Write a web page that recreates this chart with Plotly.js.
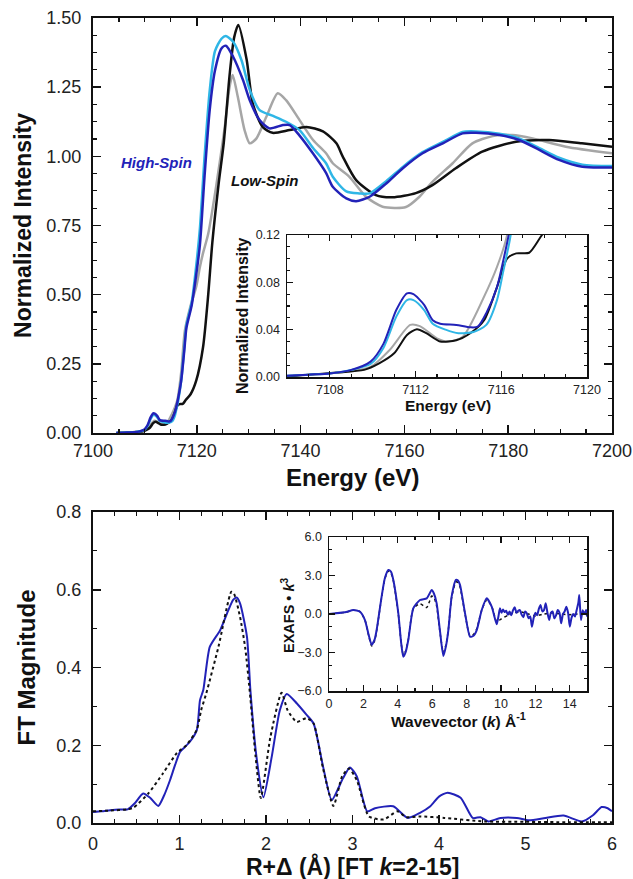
<!DOCTYPE html>
<html>
<head>
<meta charset="utf-8">
<script src="https://cdn.plot.ly/plotly-3.0.1.min.js"></script>
<style>
  html, body { margin: 0; padding: 0; background: #fff; }
  #chart { width: 633px; height: 879px; }
</style>
</head>
<body>
<div id="chart"></div>
<script>
// ---- Fe K-edge XANES (normalized) ----
const hsE  = [7104.5, 7106, 7107, 7108, 7109, 7109.9, 7110.5, 7111.1, 7111.6, 7111.9, 7112.4, 7112.8, 7113.15, 7113.9, 7114.55, 7114.9, 7115.3, 7115.8, 7116.1, 7116.4, 7117.0, 7117.6, 7118.0, 7119.0, 7119.8, 7120.6, 7121.5, 7122.5, 7123.5, 7124.75, 7125.6, 7127, 7128.9, 7130.2, 7132.1, 7134.0, 7136.6, 7137.9, 7139.8, 7142.4, 7144.9, 7146.2, 7148.8, 7150.7, 7153.3, 7156.5, 7159.7, 7163.5, 7167.4, 7171.2, 7173.8, 7178.3, 7182.1, 7186, 7189.8, 7194.3, 7200];
const hsMu = [0, 0.001, 0.002, 0.003, 0.006, 0.013, 0.028, 0.0566, 0.0707, 0.070, 0.061, 0.048, 0.045, 0.044, 0.042, 0.0425, 0.054, 0.076, 0.099, 0.125, 0.19, 0.30, 0.38, 0.46, 0.56, 0.68, 0.93, 1.17, 1.31, 1.39, 1.40, 1.36, 1.276, 1.203, 1.131, 1.101, 1.113, 1.113, 1.075, 1.01, 0.94, 0.89, 0.848, 0.838, 0.854, 0.902, 0.957, 1.011, 1.047, 1.083, 1.085, 1.077, 1.059, 1.023, 0.987, 0.962, 0.96];

const cyE  = [7104.5, 7106, 7107, 7108, 7109, 7109.9, 7110.5, 7111.1, 7111.6, 7111.9, 7112.4, 7112.8, 7113.4, 7114.0, 7114.7, 7115.3, 7115.8, 7116.1, 7116.4, 7117.0, 7117.6, 7118.0, 7119.0, 7119.8, 7120.6, 7121.5, 7122.5, 7123.5, 7124.75, 7125.6, 7127, 7128.6, 7130.2, 7132.1, 7134.7, 7137.2, 7139.8, 7142.4, 7144.9, 7146.2, 7148.8, 7151.3, 7153.3, 7156.5, 7159.7, 7163.5, 7167.4, 7171.2, 7173.8, 7178.3, 7182.1, 7186, 7189.8, 7194.3, 7200];
const cyMu = [0, 0.001, 0.002, 0.003, 0.006, 0.011, 0.0245, 0.051, 0.065, 0.065, 0.0566, 0.045, 0.040, 0.037, 0.038, 0.044, 0.065, 0.09, 0.116, 0.19, 0.31, 0.39, 0.47, 0.59, 0.74, 1.0, 1.24, 1.38, 1.425, 1.435, 1.414, 1.348, 1.24, 1.167, 1.146, 1.125, 1.095, 1.03, 0.975, 0.926, 0.873, 0.866, 0.866, 0.91, 0.962, 1.015, 1.052, 1.088, 1.09, 1.082, 1.065, 1.03, 0.995, 0.97, 0.965];

const grE  = [7104.5, 7106, 7107, 7108, 7109, 7109.9, 7110.8, 7111.75, 7112.2, 7113.0, 7113.5, 7114.2, 7115.2, 7115.8, 7116.27, 7117.0, 7117.7, 7118.8, 7119.9, 7120.6, 7121.2, 7122.2, 7123.8, 7125.4, 7126.3, 7126.9, 7127.9, 7129.2, 7130.2, 7131.5, 7133.4, 7135.6, 7137.2, 7139.8, 7142.4, 7144.9, 7146.2, 7149.4, 7152.6, 7155.8, 7160.3, 7162.9, 7165.4, 7169.3, 7173.1, 7177, 7180.8, 7184.7, 7191.1, 7200];
const grMu = [0, 0.001, 0.002, 0.003, 0.005, 0.0085, 0.023, 0.044, 0.043, 0.0327, 0.030, 0.034, 0.068, 0.093, 0.12, 0.22, 0.37, 0.46, 0.53, 0.60, 0.65, 0.72, 0.90, 1.107, 1.25, 1.294, 1.215, 1.095, 1.047, 1.065, 1.143, 1.228, 1.203, 1.131, 1.059, 1.011, 0.975, 0.926, 0.854, 0.818, 0.817, 0.854, 0.908, 0.975, 1.047, 1.073, 1.077, 1.065, 1.035, 1.011];

const lsE  = [7104.5, 7106, 7107, 7108.3, 7109.6, 7110.3, 7111.0, 7111.6, 7112.06, 7112.5, 7113.15, 7113.9, 7114.55, 7115.2, 7115.8, 7116.27, 7116.7, 7117.3, 7117.9, 7118.8, 7119.9, 7121.2, 7122.2, 7123.0, 7124.2, 7125.2, 7126.3, 7127.2, 7128, 7129.6, 7130.8, 7132.7, 7134.6, 7137.9, 7141.1, 7144.3, 7146.9, 7148.1, 7150.7, 7154.5, 7157.7, 7162.2, 7165.4, 7169.9, 7175, 7181.5, 7187.9, 7194.2, 7200];
const lsMu = [0, 0.0005, 0.002, 0.0037, 0.006, 0.0115, 0.020, 0.0355, 0.0403, 0.037, 0.030, 0.031, 0.037, 0.048, 0.076, 0.100, 0.1045, 0.105, 0.12, 0.14, 0.19, 0.31, 0.50, 0.69, 0.90, 1.05, 1.29, 1.43, 1.475, 1.35, 1.19, 1.106, 1.085, 1.095, 1.106, 1.09, 1.047, 1.0, 0.914, 0.86, 0.852, 0.867, 0.896, 0.957, 1.017, 1.053, 1.059, 1.047, 1.035];

// ---- Fourier transform magnitude: data (solid) and fit (dotted) ----
const ftR    = [0, 0.1, 0.2, 0.3, 0.4, 0.48, 0.58, 0.66, 0.755, 0.82, 0.89, 0.95, 1.006, 1.06, 1.12, 1.2, 1.237, 1.275, 1.35, 1.47, 1.56, 1.62, 1.66, 1.7, 1.78, 1.82, 1.89, 1.97, 2.066, 2.16, 2.24, 2.355, 2.47, 2.55, 2.66, 2.76, 2.89, 2.97, 3.05, 3.17, 3.26, 3.47, 3.64, 3.78, 3.9, 4.0, 4.1, 4.25, 4.39, 4.48, 4.57, 4.71, 4.9, 5.04, 5.23, 5.44, 5.65, 5.78, 5.88, 5.95, 6.0];
const ftData = [0.028, 0.030, 0.033, 0.035, 0.035, 0.05, 0.076, 0.065, 0.044, 0.07, 0.11, 0.15, 0.183, 0.195, 0.209, 0.239, 0.316, 0.342, 0.453, 0.496, 0.545, 0.574, 0.58, 0.565, 0.479, 0.34, 0.17, 0.066, 0.17, 0.29, 0.332, 0.308, 0.278, 0.256, 0.145, 0.059, 0.115, 0.143, 0.12, 0.03, 0.038, 0.043, 0.013, 0.026, 0.043, 0.068, 0.078, 0.065, 0.013, 0.015, 0.004, 0.013, 0.013, 0.007, 0.013, 0.019, 0.004, 0.02, 0.041, 0.038, 0.03];
const fitR   = [0, 0.2, 0.4, 0.47, 0.64, 0.81, 0.97, 1.08, 1.2, 1.25, 1.31, 1.45, 1.6, 1.63, 1.7, 1.76, 1.82, 1.88, 1.94, 2.05, 2.18, 2.25, 2.355, 2.47, 2.55, 2.66, 2.78, 2.88, 2.96, 3.05, 3.19, 3.36, 3.52, 3.62, 3.78, 4.06, 4.53, 5.0, 5.5, 6.0];
const ftFit  = [0.03, 0.032, 0.035, 0.04, 0.076, 0.128, 0.18, 0.2, 0.24, 0.29, 0.334, 0.453, 0.595, 0.59, 0.53, 0.45, 0.32, 0.17, 0.064, 0.22, 0.335, 0.29, 0.26, 0.27, 0.256, 0.14, 0.044, 0.12, 0.14, 0.11, 0.017, 0.009, 0.03, 0.015, 0.017, 0.013, 0.004, 0.003, 0.002, 0.002];

// ---- k^3-weighted EXAFS: data (solid) and fit (dotted) ----
const kData = [0, 0.4, 1.0, 1.41, 1.8, 2.09, 2.3, 2.48, 2.65, 2.77, 3.06, 3.25, 3.45, 3.6, 3.74, 4.03, 4.2, 4.32, 4.45, 4.61, 4.9, 5.29, 5.68, 5.85, 5.97, 6.1, 6.26, 6.45, 6.65, 6.8, 6.94, 7.13, 7.38, 7.5, 7.62, 7.91, 8.2, 8.4, 8.59, 8.88, 9.17, 9.46, 9.75,
  9.85, 9.94, 10.03, 10.12, 10.2, 10.3, 10.4, 10.5, 10.6, 10.7, 10.8, 10.9, 11.0, 11.1, 11.2, 11.3, 11.4, 11.5, 11.6, 11.7, 11.8, 11.9, 12.0, 12.1, 12.2, 12.3, 12.4, 12.5, 12.6, 12.7, 12.8, 12.9, 13.0, 13.1, 13.2, 13.3, 13.4, 13.5, 13.6, 13.7, 13.8, 13.9, 14.0, 14.1, 14.2, 14.3, 14.4, 14.5, 14.55, 14.65, 14.75, 14.85, 14.95, 15.0];
const chiData = [0, 0.05, 0.15, 0.31, 0.18, -0.47, -1.6, -2.4, -2.0, -1.25, 1.35, 2.8, 3.43, 3.3, 2.65, 0.05, -2.3, -3.33, -3.0, -2.03, 0.44, 1.09, 1.22, 1.6, 1.87, 1.6, 0.83, -1.3, -3.27, -2.5, -1.25, 1.35, 2.65, 2.6, 2.26, 0.05, -1.77, -1.7, -1.25, 0.31, 1.22, 0.57, -0.8,
  -0.2, 0.44, 0.1, 0.35, 0.15, 0.25, -0.05, 0.2, -0.1, 0.3, 0.52, 0.1, 0.25, 0.3, -0.05, -0.26, 0.2, 0.05, -0.34, -0.2, -0.99, -0.3, 0.1, -0.1, 0.4, 0.7, 0.2, 0.3, 0.83, 0.1, -0.47, 0.1, 0.2, -0.34, -0.1, 0.31, 0.1, -0.73, 0.0, 0.2, 0.57, 0.1, -0.99, -0.3, 0.0, -0.2, 0.31, 0.9, 1.48, -0.47, 0.3, 0.0, 0.31, -0.2];
const kFit = [0, 0.4, 1.0, 1.41, 1.8, 2.09, 2.3, 2.48, 2.65, 2.77, 3.06, 3.25, 3.45, 3.6, 3.74, 4.03, 4.2, 4.32, 4.45, 4.61, 4.9, 5.29, 5.68, 5.85, 5.97, 6.1, 6.26, 6.45, 6.65, 6.8, 6.94, 7.13, 7.38, 7.5, 7.62, 7.91, 8.2, 8.4, 8.59, 8.88, 9.17, 9.46, 9.75, 10.0, 10.4, 10.8, 11.2, 11.6, 12.0, 12.5, 13.0, 13.5, 14.0, 14.5, 15.0];
const chiFit = [0, 0.05, 0.15, 0.3, 0.18, -0.47, -1.65, -2.5, -2.1, -1.3, 1.3, 2.75, 3.35, 3.2, 2.6, 0.0, -2.3, -3.15, -2.9, -2.0, 0.4, 0.8, 0.5, 1.0, 1.4, 1.3, 0.6, -1.4, -3.0, -2.4, -1.2, 1.3, 2.5, 2.45, 2.1, 0.0, -1.7, -1.6, -1.15, 0.3, 1.1, 0.6, -0.6, -0.4, -0.1, 0.1, 0.15, 0.0, -0.15, 0.0, 0.08, 0.0, -0.05, 0.0, 0.0];

// ---- colours ----
const BLUE = '#2222b8', CYAN = '#2fb6e6', GREY = '#a6a6a6', BLACK = '#111111';
const FONT = 'Liberation Sans, Arial, Helvetica, sans-serif';

// page geometry (pixels) -> paper fractions
const W = 633, H = 879;
const domX = (l, r) => [l / W, r / W];
const domY = (t, b) => [1 - b / H, 1 - t / H];
const px = v => v / W;
const py = v => 1 - v / H;

function frame(extra) {
  return Object.assign({
    showgrid: false, zeroline: false, showline: true, linecolor: BLACK, linewidth: 2,
    mirror: 'ticks', ticks: 'inside', ticklen: 8, tickwidth: 1.5, tickcolor: BLACK,
    tickfont: { family: FONT, size: 18, color: '#222' }, ticklabelstandoff: 4,
    fixedrange: true, automargin: false
  }, extra);
}
function insetFrame(extra) {
  return frame(Object.assign({
    linewidth: 1.5, ticklen: 6, tickwidth: 1.2,
    tickfont: { family: FONT, size: 12.5, color: '#222' }, ticklabelstandoff: 3
  }, extra));
}
const minorTicks = (d, len) => ({ dtick: d, ticks: 'inside', ticklen: len, tickwidth: 1.1, tickcolor: BLACK, showgrid: false });

const xanes = [
  { x: grE, y: grMu, c: GREY },
  { x: lsE, y: lsMu, c: BLACK },
  { x: cyE, y: cyMu, c: CYAN },
  { x: hsE, y: hsMu, c: BLUE }
];
const traces = [];
xanes.forEach(s => {
  traces.push({ x: s.x, y: s.y, xaxis: 'x', yaxis: 'y', type: 'scatter', mode: 'lines',
    line: { color: s.c, width: 2.5, shape: 'spline', smoothing: 0.7 }, hoverinfo: 'skip' });
});
xanes.forEach(s => {
  traces.push({ x: s.x, y: s.y, xaxis: 'x2', yaxis: 'y2', type: 'scatter', mode: 'lines',
    line: { color: s.c, width: 2, shape: 'spline', smoothing: 0.7 }, hoverinfo: 'skip' });
});
traces.push({ x: ftR, y: ftData, xaxis: 'x3', yaxis: 'y3', type: 'scatter', mode: 'lines',
  line: { color: BLUE, width: 2, shape: 'spline', smoothing: 0.6 }, hoverinfo: 'skip' });
traces.push({ x: fitR, y: ftFit, xaxis: 'x3', yaxis: 'y3', type: 'scatter', mode: 'lines',
  line: { color: BLACK, width: 2, dash: 'dot', shape: 'spline', smoothing: 0.6 }, hoverinfo: 'skip' });
traces.push({ x: kFit, y: chiFit, xaxis: 'x4', yaxis: 'y4', type: 'scatter', mode: 'lines',
  line: { color: BLACK, width: 1.5, dash: 'dot', shape: 'spline', smoothing: 0.6 }, hoverinfo: 'skip' });
traces.push({ x: kData, y: chiData, xaxis: 'x4', yaxis: 'y4', type: 'scatter', mode: 'lines',
  line: { color: BLUE, width: 2, shape: 'spline', smoothing: 0.6 }, hoverinfo: 'skip' });

// axis titles placed as paper annotations so each sits exactly where wanted
function label(text, x, y, size, angle, color) {
  return { xref: 'paper', yref: 'paper', x: px(x), y: py(y), xanchor: 'center', yanchor: 'middle',
    text: text, showarrow: false, textangle: angle || 0,
    font: { family: FONT, size: size, color: color || BLACK } };
}

const layout = {
  width: W, height: H, showlegend: false,
  margin: { l: 0, r: 0, t: 0, b: 0 },
  paper_bgcolor: '#fff', plot_bgcolor: 'rgba(0,0,0,0)',
  font: { family: FONT, color: BLACK },

  // XANES main
  xaxis: frame({ domain: domX(93, 612), anchor: 'y', range: [7100, 7200], dtick: 20, tick0: 7100,
    ticklabelstandoff: 0, minor: minorTicks(5, 4) }),
  yaxis: frame({ domain: domY(18, 433), anchor: 'x', range: [0, 1.5], dtick: 0.25, tick0: 0, tickformat: '.2f',
    ticklabelstandoff: 6, minor: minorTicks(0.0625, 4),
    title: { text: '<b>Normalized Intensity</b>', font: { family: FONT, size: 23, color: BLACK }, standoff: 8 } }),

  // XANES pre-edge inset
  xaxis2: insetFrame({ domain: domX(287, 587), anchor: 'y2', range: [7106, 7120], dtick: 4, tick0: 7108,
    ticklabelstandoff: 0, minor: minorTicks(1, 3) }),
  yaxis2: insetFrame({ domain: domY(235, 377), anchor: 'x2', range: [0, 0.12], dtick: 0.04, tick0: 0, tickformat: '.2f',
    minor: minorTicks(0.01, 3) }),

  // FT main
  xaxis3: frame({ domain: domX(93, 612), anchor: 'y3', range: [0, 6], dtick: 1, tick0: 0,
    ticklabelstandoff: 3, minor: minorTicks(0.25, 4) }),
  yaxis3: frame({ domain: domY(512, 823), anchor: 'x3', range: [0, 0.8], dtick: 0.2, tick0: 0, tickformat: '.1f',
    ticklabelstandoff: 6, minor: minorTicks(0.1, 4),
    title: { text: '<b>FT Magnitude</b>', font: { family: FONT, size: 24, color: BLACK }, standoff: 14 } }),

  // EXAFS inset
  xaxis4: insetFrame({ domain: domX(329, 587), anchor: 'y4', range: [0, 15], dtick: 2, tick0: 0,
    ticklabelstandoff: 0, minor: minorTicks(1, 3) }),
  yaxis4: insetFrame({ domain: domY(537, 691), anchor: 'x4', range: [-6, 6], dtick: 3, tick0: 0, tickformat: '.1f',
    minor: minorTicks(1, 3) }),

  annotations: [
    label('<b>Energy (eV)</b>', 352.5, 477, 24),
    label('<b>R+\u0394 (\u00c5) [FT <i>k</i>=2-15]</b>', 352.5, 866, 23),
    label('<b>Energy (eV)</b>', 448, 405, 15.5),
    label('<b>Normalized Intensity</b>', 243, 316, 16, -90),
    label('<b>Wavevector (<i>k</i>) \u00c5<sup>-1</sup></b>', 458, 720, 15.5),
    label('<b>EXAFS \u2022 <i>k</i><sup>3</sup></b>', 288, 615, 14.5, -90),
    { xref: 'x', yref: 'y', x: 7112.3, y: 0.976, text: '<b><i>High-Spin</i></b>', showarrow: false,
      font: { family: FONT, size: 15, color: BLUE } },
    { xref: 'x', yref: 'y', x: 7133.1, y: 0.911, text: '<b><i>Low-Spin</i></b>', showarrow: false,
      font: { family: FONT, size: 15, color: BLACK } }
  ]
};

Plotly.newPlot('chart', traces, layout, { staticPlot: true, displayModeBar: false });
</script>
</body>
</html>
